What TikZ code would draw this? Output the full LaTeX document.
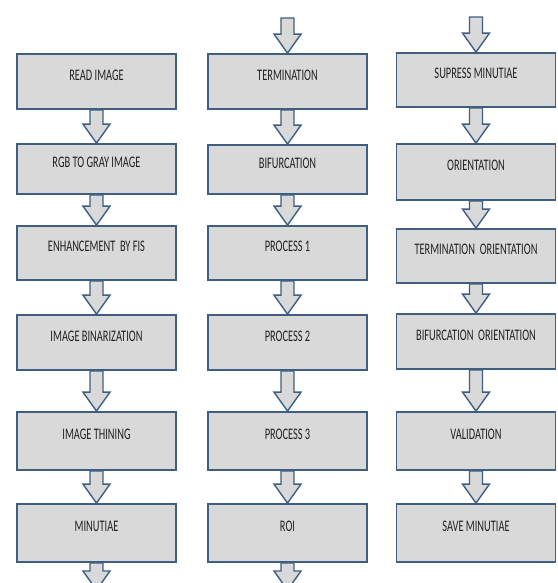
\documentclass[tikz,border=0pt]{standalone}
\usepackage{fontspec}
\setmainfont{Carlito}
\usepackage{tikz}
\usetikzlibrary{calc}

\definecolor{boxfill}{HTML}{D9D9D9}
\definecolor{boxline}{HTML}{3E5F82}
\definecolor{txtgray}{HTML}{222222}

% tall narrow lettering as in the original
\newcommand{\lbl}[1]{\scalebox{1}[1.55]{#1}}
% hollow block arrow from one anchor down to another
\newcommand{\flowarrow}[2]{%
  \draw[blockarrow] let \p1=(#1), \p2=(#2) in
    (\x1-6.5pt,\y1) -- (\x1+6.5pt,\y1) -- (\x1+6.5pt,\y2+19pt)
    -- (\x1+13.5pt,\y2+19pt) -- (\x1,\y2) -- (\x1-13.5pt,\y2+19pt)
    -- (\x1-6.5pt,\y2+19pt) -- cycle;}

\begin{document}
\begin{tikzpicture}[x=1pt,y=-1pt,
    stage/.style={draw=boxline,fill=boxfill,line width=1.8pt,
      minimum width=159pt,inner sep=0pt,text=txtgray,
      font=\fontsize{10.4}{12}\selectfont,text height=4pt,text depth=6.5pt},
    blockarrow/.style={draw=boxline,fill=boxfill,line width=1.4pt,line join=miter}]
  \useasboundingbox[fill=white] (0,0) rectangle (557,583);

  % column 1
  \node[stage,minimum height=55pt] (read) at (96.5,81.5) {\lbl{READ IMAGE}};
  \node[stage,minimum height=50pt] (rgb)  at (96.5,169) {\lbl{RGB TO GRAY IMAGE}};
  \node[stage,minimum height=54pt] (enh)  at (96.5,253) {\lbl{ENHANCEMENT~ BY FIS}};
  \node[stage,minimum height=55pt] (bin)  at (96.5,342.5) {\lbl{IMAGE BINARIZATION}};
  \node[stage,minimum height=58pt] (thin) at (96.5,441) {\lbl{IMAGE THINING}};
  \node[stage,minimum height=58pt] (minu) at (96.5,533) {\lbl{MINUTIAE}};
  \coordinate (out1) at (96.5,590);

  % column 2
  \coordinate (in2) at (287.5,18);
  \node[stage,minimum height=55pt] (term) at (287.5,81.5) {\lbl{TERMINATION}};
  \node[stage,minimum height=49pt] (bif)  at (287.5,169.5) {\lbl{BIFURCATION}};
  \node[stage,minimum height=54pt] (pone) at (287.5,253) {\lbl{PROCESS 1}};
  \node[stage,minimum height=55pt] (ptwo) at (287.5,342.5) {\lbl{PROCESS 2}};
  \node[stage,minimum height=58pt] (pthr) at (287.5,441) {\lbl{PROCESS 3}};
  \node[stage,minimum height=58pt] (roi)  at (287.5,533) {\lbl{ROI}};
  \coordinate (out2) at (287.5,590);

  % column 3
  \coordinate (in3) at (476,17);
  \node[stage,minimum height=54pt] (supr) at (476,80) {\lbl{SUPRESS MINUTIAE}};
  \node[stage,minimum height=56pt] (ori)  at (476,172) {\lbl{ORIENTATION}};
  \node[stage,minimum height=54pt] (tori) at (476,256) {\lbl{TERMINATION~ ORIENTATION}};
  \node[stage,minimum height=55pt] (bori) at (476,341.5) {\lbl{BIFURCATION~ ORIENTATION}};
  \node[stage,minimum height=58pt] (val)  at (476,441) {\lbl{VALIDATION}};
  \node[stage,minimum height=58pt] (save) at (476,533) {\lbl{SAVE MINUTIAE}};

  \foreach \a/\b in {read/rgb,rgb/enh,enh/bin,bin/thin,thin/minu,
                     term/bif,bif/pone,pone/ptwo,ptwo/pthr,pthr/roi,
                     supr/ori,ori/tori,tori/bori,bori/val,val/save}
    \flowarrow{\a.south}{\b.north};
  \flowarrow{minu.south}{out1}
  \flowarrow{roi.south}{out2}
  \flowarrow{in2}{term.north}
  \flowarrow{in3}{supr.north}
\end{tikzpicture}
\end{document}
